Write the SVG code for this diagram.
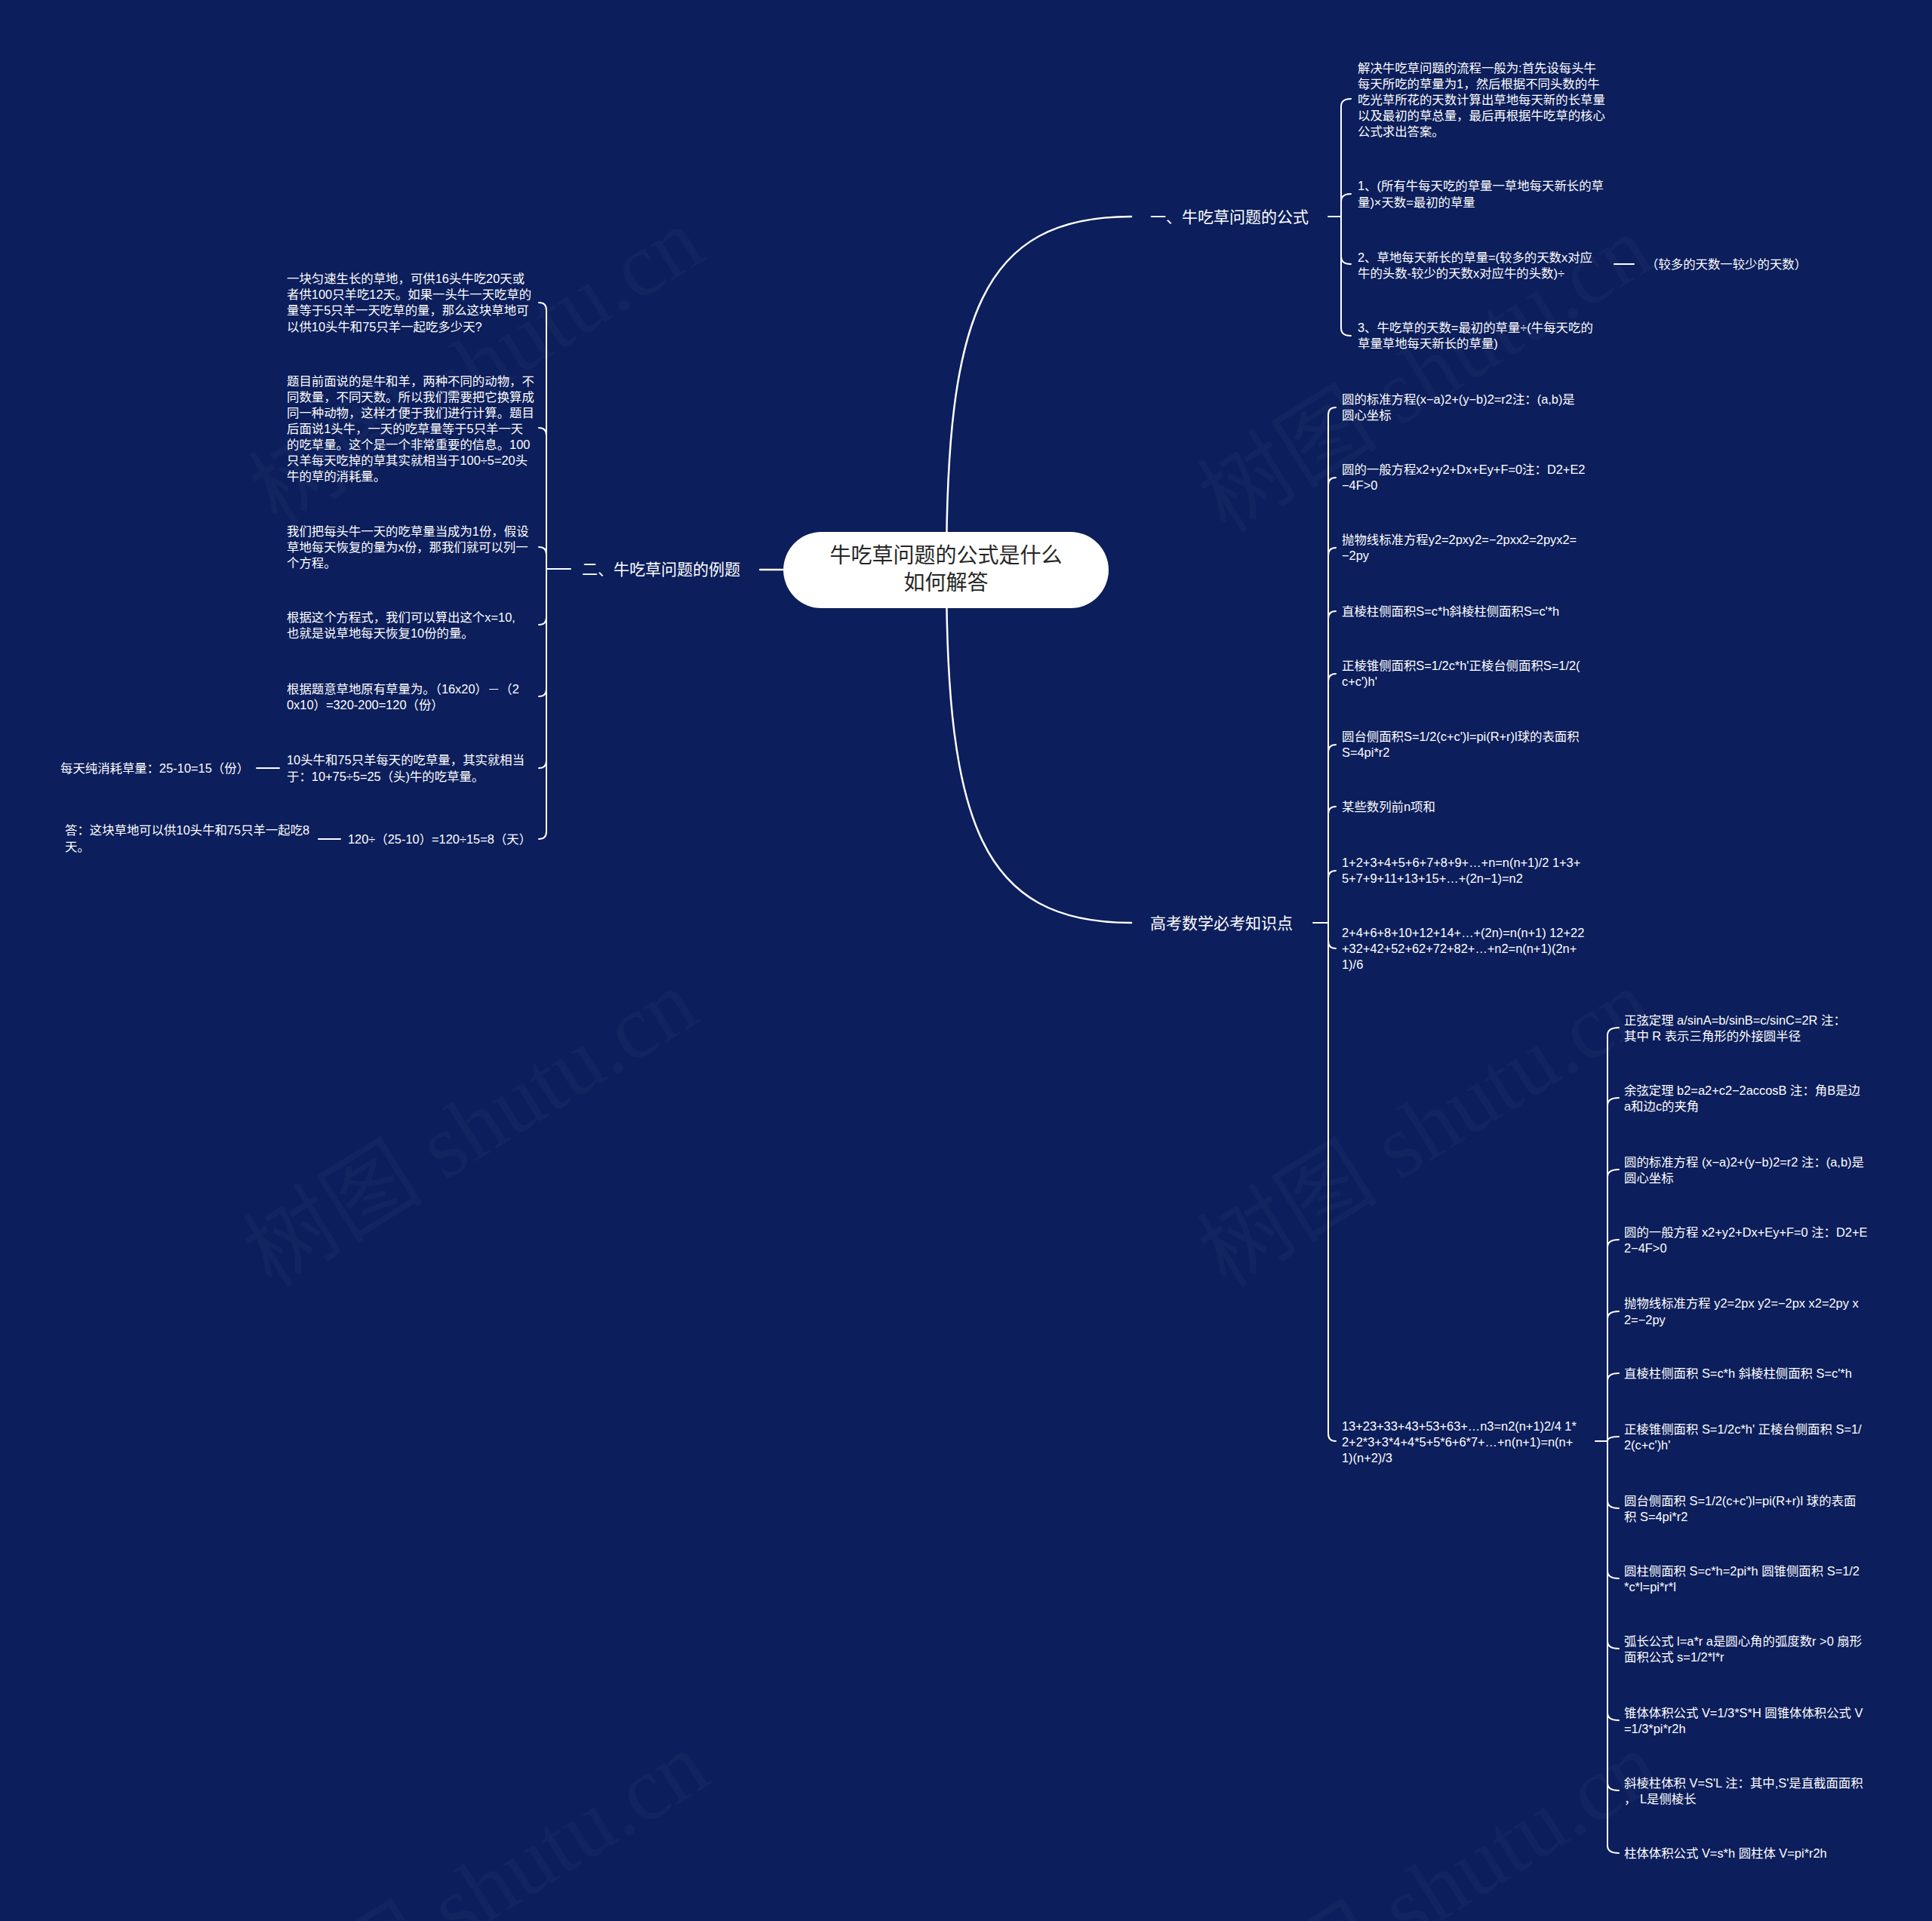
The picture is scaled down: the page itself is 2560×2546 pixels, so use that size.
<svg xmlns="http://www.w3.org/2000/svg" width="2560" height="2546" viewBox="0 0 2560 2546">
<style>
.t{font-family:"Liberation Sans","Noto Sans CJK SC",sans-serif;font-size:16.4px;fill:#fff}
.b{font-size:21px}
.c{font-size:28px;fill:#262626;text-anchor:middle}
.ln{fill:none;stroke:#fff;stroke-width:2;stroke-linecap:round}
.mc{stroke-width:2.5}
.wm{font-family:"Liberation Serif","Noto Sans CJK SC",serif;font-size:120px;fill:#fff;fill-opacity:0.032;text-anchor:middle}
</style>
<rect width="2560" height="2546" fill="#0c1e5b"/>
<g id="watermarks">
<text class="wm" transform="translate(653,520) rotate(-32)">树图 shutu.cn</text>
<text class="wm" transform="translate(645,1530) rotate(-32)">树图 shutu.cn</text>
<text class="wm" transform="translate(660,2540) rotate(-32)">树图 shutu.cn</text>
<text class="wm" transform="translate(1910,530) rotate(-32)">树图 shutu.cn</text>
<text class="wm" transform="translate(1910,1530) rotate(-32)">树图 shutu.cn</text>
<text class="wm" transform="translate(1920,2540) rotate(-32)">树图 shutu.cn</text>
</g>
<g id="connectors">
<path class="ln mc" d="M1254,755 C1254,420 1300,287 1499,287"/>
<path class="ln mc" d="M1254,755 C1254,1090 1300,1223 1499,1223"/>
<path class="ln mc" d="M1007,755 L1100,755"/>
<path class="ln" d="M1760,287 L1777,287"/>
<path class="ln" d="M1777,287 L1777,141 Q1777,131 1790,131"/>
<path class="ln" d="M1777,287 L1777,267 Q1777,257 1790,257"/>
<path class="ln" d="M1777,287 L1777,340 Q1777,350 1790,350"/>
<path class="ln" d="M1777,287 L1777,435 Q1777,445 1790,445"/>
<path class="ln" d="M2139,350 L2165,350"/>
<path class="ln" d="M1740,1223 L1760,1223"/>
<path class="ln" d="M1760,1223 L1760,550 Q1760,540 1770,540"/>
<path class="ln" d="M1760,1223 L1760,643 Q1760,633 1770,633"/>
<path class="ln" d="M1760,1223 L1760,736 Q1760,726 1770,726"/>
<path class="ln" d="M1760,1223 L1760,820 Q1760,810 1770,810"/>
<path class="ln" d="M1760,1223 L1760,903 Q1760,893 1770,893"/>
<path class="ln" d="M1760,1223 L1760,997 Q1760,987 1770,987"/>
<path class="ln" d="M1760,1223 L1760,1079 Q1760,1069 1770,1069"/>
<path class="ln" d="M1760,1223 L1760,1164 Q1760,1154 1770,1154"/>
<path class="ln" d="M1760,1223 L1760,1247 Q1760,1257 1770,1257"/>
<path class="ln" d="M1760,1223 L1760,1900 Q1760,1910 1770,1910"/>
<path class="ln" d="M2114,1910 L2130,1910"/>
<path class="ln" d="M2130,1910 L2130,1372 Q2130,1362 2145,1362"/>
<path class="ln" d="M2130,1910 L2130,1465 Q2130,1455 2145,1455"/>
<path class="ln" d="M2130,1910 L2130,1560 Q2130,1550 2145,1550"/>
<path class="ln" d="M2130,1910 L2130,1653 Q2130,1643 2145,1643"/>
<path class="ln" d="M2130,1910 L2130,1748 Q2130,1738 2145,1738"/>
<path class="ln" d="M2130,1910 L2130,1830 Q2130,1820 2145,1820"/>
<path class="ln" d="M2130,1910 C2130,1906 2134,1904 2145,1904"/>
<path class="ln" d="M2130,1910 L2130,1989 Q2130,1999 2145,1999"/>
<path class="ln" d="M2130,1910 L2130,2082 Q2130,2092 2145,2092"/>
<path class="ln" d="M2130,1910 L2130,2175 Q2130,2185 2145,2185"/>
<path class="ln" d="M2130,1910 L2130,2270 Q2130,2280 2145,2280"/>
<path class="ln" d="M2130,1910 L2130,2363 Q2130,2373 2145,2373"/>
<path class="ln" d="M2130,1910 L2130,2446 Q2130,2456 2145,2456"/>
<path class="ln" d="M724,754 L756,754"/>
<path class="ln" d="M724,754 L724,411 Q724,401 714,401"/>
<path class="ln" d="M724,754 L724,577 Q724,567 714,567"/>
<path class="ln" d="M724,754 L724,735 Q724,725 714,725"/>
<path class="ln" d="M724,754 L724,818 Q724,828 714,828"/>
<path class="ln" d="M724,754 L724,913 Q724,923 714,923"/>
<path class="ln" d="M724,754 L724,1008 Q724,1018 714,1018"/>
<path class="ln" d="M724,754 L724,1102 Q724,1112 714,1112"/>
<path class="ln" d="M340,1018 L370,1018"/>
<path class="ln" d="M422,1112 L451,1112"/>
</g>
<g id="root">
<rect x="1038" y="705" width="431" height="101" rx="50.5" fill="#fff"/>
<text class="t c"><tspan x="1253.5" y="746">牛吃草问题的公式是什么</tspan><tspan x="1253.5" y="782">如何解答</tspan></text>
</g>
<g id="branch1">
<text class="t b" x="1524" y="295">一、牛吃草问题的公式</text>
</g>
<g id="b1-a"><text class="t"><tspan x="1799" y="96">解决牛吃草问题的流程一般为:首先设每头牛</tspan><tspan x="1799" y="117">每天所吃的草量为1，然后根据不同头数的牛</tspan><tspan x="1799" y="138">吃光草所花的天数计算出草地每天新的长草量</tspan><tspan x="1799" y="159">以及最初的草总量，最后再根据牛吃草的核心</tspan><tspan x="1799" y="180">公式求出答案。</tspan></text></g>
<g id="b1-b"><text class="t"><tspan x="1799" y="252">1、(所有牛每天吃的草量一草地每天新长的草</tspan><tspan x="1799" y="274">量)×天数=最初的草量</tspan></text></g>
<g id="b1-c"><text class="t"><tspan x="1799" y="347">2、草地每天新长的草量=(较多的天数x对应</tspan><tspan x="1799" y="368">牛的头数-较少的天数x对应牛的头数)÷</tspan></text></g>
<g id="b1-c1"><text class="t" x="2181" y="356">（较多的天数一较少的天数）</text></g>
<g id="b1-d"><text class="t"><tspan x="1799" y="440">3、牛吃草的天数=最初的草量÷(牛每天吃的</tspan><tspan x="1799" y="461">草量草地每天新长的草量)</tspan></text></g>
<g id="branch2">
<text class="t b" x="1524" y="1231">高考数学必考知识点</text>
</g>
<g id="b2-1"><text class="t"><tspan x="1778" y="535">圆的标准方程(x−a)2+(y−b)2=r2注：(a,b)是</tspan><tspan x="1778" y="556">圆心坐标</tspan></text></g>
<g id="b2-2"><text class="t"><tspan x="1778" y="628">圆的一般方程x2+y2+Dx+Ey+F=0注：D2+E2</tspan><tspan x="1778" y="649">−4F&gt;0</tspan></text></g>
<g id="b2-3"><text class="t"><tspan x="1778" y="721">抛物线标准方程y2=2pxy2=−2pxx2=2pyx2=</tspan><tspan x="1778" y="742">−2py</tspan></text></g>
<g id="b2-4"><text class="t" x="1778" y="816">直棱柱侧面积S=c*h斜棱柱侧面积S=c'*h</text></g>
<g id="b2-5"><text class="t"><tspan x="1778" y="888">正棱锥侧面积S=1/2c*h'正棱台侧面积S=1/2(</tspan><tspan x="1778" y="909">c+c')h'</tspan></text></g>
<g id="b2-6"><text class="t"><tspan x="1778" y="982">圆台侧面积S=1/2(c+c')l=pi(R+r)l球的表面积</tspan><tspan x="1778" y="1003">S=4pi*r2</tspan></text></g>
<g id="b2-7"><text class="t" x="1778" y="1075">某些数列前n项和</text></g>
<g id="b2-8"><text class="t"><tspan x="1778" y="1149">1+2+3+4+5+6+7+8+9+…+n=n(n+1)/2 1+3+</tspan><tspan x="1778" y="1170">5+7+9+11+13+15+…+(2n−1)=n2</tspan></text></g>
<g id="b2-9"><text class="t"><tspan x="1778" y="1242">2+4+6+8+10+12+14+…+(2n)=n(n+1) 12+22</tspan><tspan x="1778" y="1263">+32+42+52+62+72+82+…+n2=n(n+1)(2n+</tspan><tspan x="1778" y="1284">1)/6</tspan></text></g>
<g id="b2-10"><text class="t"><tspan x="1778" y="1896">13+23+33+43+53+63+…n3=n2(n+1)2/4 1*</tspan><tspan x="1778" y="1917">2+2*3+3*4+4*5+5*6+6*7+…+n(n+1)=n(n+</tspan><tspan x="1778" y="1938">1)(n+2)/3</tspan></text></g>
<g id="s1"><text class="t"><tspan x="2152" y="1358">正弦定理 a/sinA=b/sinB=c/sinC=2R 注：</tspan><tspan x="2152" y="1379">其中 R 表示三角形的外接圆半径</tspan></text></g>
<g id="s2"><text class="t"><tspan x="2152" y="1451">余弦定理 b2=a2+c2−2accosB 注：角B是边</tspan><tspan x="2152" y="1472">a和边c的夹角</tspan></text></g>
<g id="s3"><text class="t"><tspan x="2152" y="1546">圆的标准方程 (x−a)2+(y−b)2=r2 注：(a,b)是</tspan><tspan x="2152" y="1567">圆心坐标</tspan></text></g>
<g id="s4"><text class="t"><tspan x="2152" y="1639">圆的一般方程 x2+y2+Dx+Ey+F=0 注：D2+E</tspan><tspan x="2152" y="1660">2−4F&gt;0</tspan></text></g>
<g id="s5"><text class="t"><tspan x="2152" y="1733">抛物线标准方程 y2=2px y2=−2px x2=2py x</tspan><tspan x="2152" y="1755">2=−2py</tspan></text></g>
<g id="s6"><text class="t" x="2152" y="1826">直棱柱侧面积 S=c*h 斜棱柱侧面积 S=c'*h</text></g>
<g id="s7"><text class="t"><tspan x="2152" y="1900">正棱锥侧面积 S=1/2c*h' 正棱台侧面积 S=1/</tspan><tspan x="2152" y="1921">2(c+c')h'</tspan></text></g>
<g id="s8"><text class="t"><tspan x="2152" y="1995">圆台侧面积 S=1/2(c+c')l=pi(R+r)l 球的表面</tspan><tspan x="2152" y="2016">积 S=4pi*r2</tspan></text></g>
<g id="s9"><text class="t"><tspan x="2152" y="2088">圆柱侧面积 S=c*h=2pi*h 圆锥侧面积 S=1/2</tspan><tspan x="2152" y="2109">*c*l=pi*r*l</tspan></text></g>
<g id="s10"><text class="t"><tspan x="2152" y="2181">弧长公式 l=a*r a是圆心角的弧度数r &gt;0 扇形</tspan><tspan x="2152" y="2202">面积公式 s=1/2*l*r</tspan></text></g>
<g id="s11"><text class="t"><tspan x="2152" y="2276">锥体体积公式 V=1/3*S*H 圆锥体体积公式 V</tspan><tspan x="2152" y="2297">=1/3*pi*r2h</tspan></text></g>
<g id="s12"><text class="t"><tspan x="2152" y="2369">斜棱柱体积 V=S'L 注：其中,S'是直截面面积</tspan><tspan x="2152" y="2390">， L是侧棱长</tspan></text></g>
<g id="s13"><text class="t" x="2152" y="2462">柱体体积公式 V=s*h 圆柱体 V=pi*r2h</text></g>
<g id="branch3">
<text class="t b" x="771" y="762">二、牛吃草问题的例题</text>
</g>
<g id="l1"><text class="t"><tspan x="380" y="375">一块匀速生长的草地，可供16头牛吃20天或</tspan><tspan x="380" y="396">者供100只羊吃12天。如果一头牛一天吃草的</tspan><tspan x="380" y="417">量等于5只羊一天吃草的量，那么这块草地可</tspan><tspan x="380" y="439">以供10头牛和75只羊一起吃多少天?</tspan></text></g>
<g id="l2"><text class="t"><tspan x="380" y="511">题目前面说的是牛和羊，两种不同的动物，不</tspan><tspan x="380" y="532">同数量，不同天数。所以我们需要把它换算成</tspan><tspan x="380" y="553">同一种动物，这样才便于我们进行计算。题目</tspan><tspan x="380" y="574">后面说1头牛，一天的吃草量等于5只羊一天</tspan><tspan x="380" y="595">的吃草量。这个是一个非常重要的信息。100</tspan><tspan x="380" y="616">只羊每天吃掉的草其实就相当于100÷5=20头</tspan><tspan x="380" y="637">牛的草的消耗量。</tspan></text></g>
<g id="l3"><text class="t"><tspan x="380" y="710">我们把每头牛一天的吃草量当成为1份，假设</tspan><tspan x="380" y="731">草地每天恢复的量为x份，那我们就可以列一</tspan><tspan x="380" y="752">个方程。</tspan></text></g>
<g id="l4"><text class="t"><tspan x="380" y="824">根据这个方程式，我们可以算出这个x=10,</tspan><tspan x="380" y="845">也就是说草地每天恢复10份的量。</tspan></text></g>
<g id="l5"><text class="t"><tspan x="380" y="919">根据题意草地原有草量为。（16x20）－（2</tspan><tspan x="380" y="940">0x10）=320-200=120（份）</tspan></text></g>
<g id="l6"><text class="t"><tspan x="380" y="1013">10头牛和75只羊每天的吃草量，其实就相当</tspan><tspan x="380" y="1035">于：10+75÷5=25（头)牛的吃草量。</tspan></text></g>
<g id="l6a"><text class="t" x="80" y="1024">每天纯消耗草量：25-10=15（份）</text></g>
<g id="l7"><text class="t" x="461" y="1118">120÷（25-10）=120÷15=8（天）</text></g>
<g id="l7a"><text class="t"><tspan x="86" y="1106">答：这块草地可以供10头牛和75只羊一起吃8</tspan><tspan x="86" y="1128">天。</tspan></text></g>
</svg>
